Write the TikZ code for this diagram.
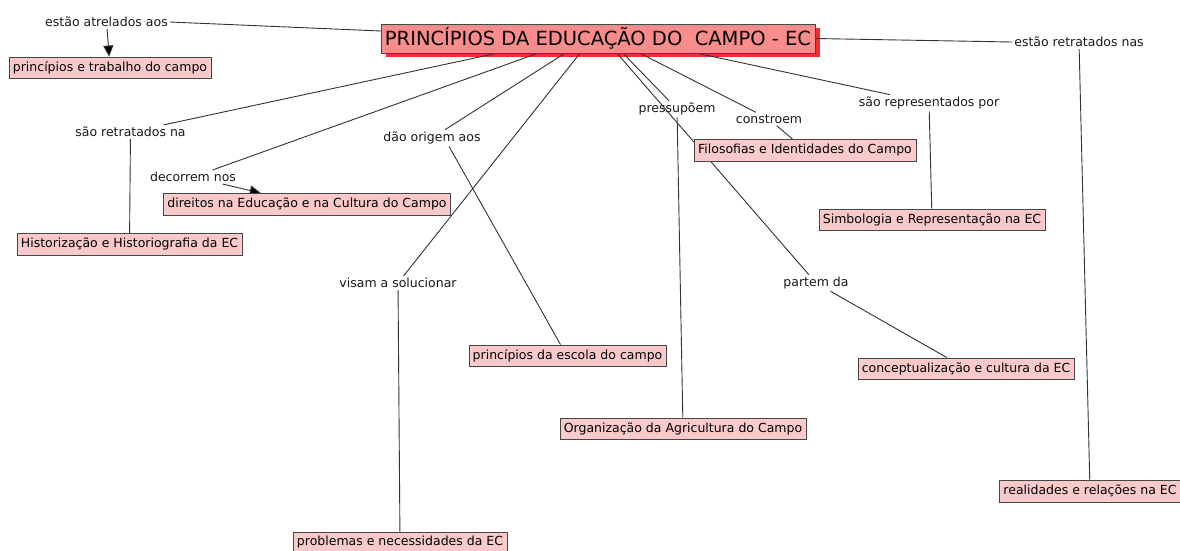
\documentclass[tikz,border=0pt]{standalone}
\usepackage{fontspec}
\setmainfont{DejaVu Sans}
\usetikzlibrary{arrows.meta}
\usetikzlibrary{backgrounds}
\definecolor{raizcor}{RGB}{250,140,140}
\definecolor{sombracor}{RGB}{238,48,48}
\definecolor{caixacor}{RGB}{250,202,202}
\definecolor{bordacor}{RGB}{70,70,70}
\definecolor{linhacor}{RGB}{50,50,50}
\tikzset{
    raiz/.style={draw=bordacor, fill=raizcor, inner xsep=4pt, minimum height=29pt,
        font=\fontsize{19.5}{22}\selectfont},
    conceito/.style={draw=bordacor, fill=caixacor, inner xsep=4pt, minimum height=21.5pt,
        font=\fontsize{12.5}{14}\selectfont},
    frase/.style={inner sep=2pt, text=black!90, font=\fontsize{12.5}{14}\selectfont},
    liga/.style={draw=linhacor, line width=0.9pt},
    seta/.style={liga, -{Triangle[length=11pt,width=10pt,fill=black]}}
}

\begin{document}
\begin{tikzpicture}[x=1pt,y=-1pt]
    \useasboundingbox (0,0) rectangle (1180,550);
    % no central
    \node[raiz] (pec) at (598,38.5) {PRINCÍPIOS DA EDUCAÇÃO DO\ \ CAMPO - EC};
    % frases de ligacao
    \node[frase] (atrel) at (106.5,22) {estão atrelados aos};
    \node[frase] (retrnas) at (1079,42) {estão retratados nas};
    \node[frase] (retrna) at (130.5,132) {são retratados na};
    \node[frase] (decor) at (193,177) {decorrem nos};
    \node[frase] (origem) at (432,138) {dão origem aos};
    \node[frase] (visam) at (398,283) {visam a solucionar};
    \node[frase] (pressu) at (677,109) {pressupõem};
    \node[frase] (constr) at (769,119) {constroem};
    \node[frase] (repres) at (929,103) {são representados por};
    \node[frase] (partem) at (816,283) {partem da};
    % conceitos
    \node[conceito] (ptrab) at (110,67.5) {princípios e trabalho do campo};
    \node[conceito] (hist) at (129.5,244) {Historização e Historiografia da EC};
    \node[conceito] (direitos) at (307,204) {direitos na Educação e na Cultura do Campo};
    \node[conceito] (escola) at (567.5,355.5) {princípios da escola do campo};
    \node[conceito] (probl) at (400,542.5) {problemas e necessidades da EC};
    \node[conceito] (organ) at (683,428.5) {Organização da Agricultura do Campo};
    \node[conceito] (filos) at (805,150) {Filosofias e Identidades do Campo};
    \node[conceito] (simb) at (932,219.5) {Simbologia e Representação na EC};
    \node[conceito] (concep) at (966,368.5) {conceptualização e cultura da EC};
    \node[conceito] (realid) at (1090,491) {realidades e relações na EC};
    \begin{scope}[on background layer]
    \fill[sombracor] ([shift={(5,4)}]pec.south west) rectangle ([shift={(5,4)}]pec.north east);
    \draw[liga] (atrel.east) -- ([yshift=7.5pt]pec.west);
    \draw[seta] (atrel) -- (ptrab);
    \draw[liga] (pec.east) -- (retrnas.west);
    \draw[liga] (retrnas) -- (realid);
    \draw[liga] ([xshift=-101pt]pec.south) -- (retrna);
    \draw[liga] (retrna) -- (hist);
    \draw[liga] ([xshift=-60pt]pec.south) -- (decor);
    \draw[seta] (decor) -- (direitos);
    \draw[liga] ([xshift=-33pt]pec.south) -- (origem);
    \draw[liga] ([xshift=17pt]origem.south) -- ([xshift=-7pt]escola.north);
    \draw[liga] ([xshift=-18pt]pec.south) -- (visam);
    \draw[liga] (visam) -- (probl);
    \draw[liga] ([xshift=19pt]pec.south) -- (partem);
    \draw[liga] (partem) -- (concep);
    \draw[liga] ([xshift=25pt]pec.south) -- (pressu);
    \draw[liga] (pressu) -- (organ);
    \draw[liga] ([xshift=42pt]pec.south) -- (constr);
    \draw[liga] (constr) -- (filos);
    \draw[liga] ([xshift=99pt]pec.south) -- (repres);
    \draw[liga] (repres) -- (simb);
    \end{scope}
\end{tikzpicture}
\end{document}
